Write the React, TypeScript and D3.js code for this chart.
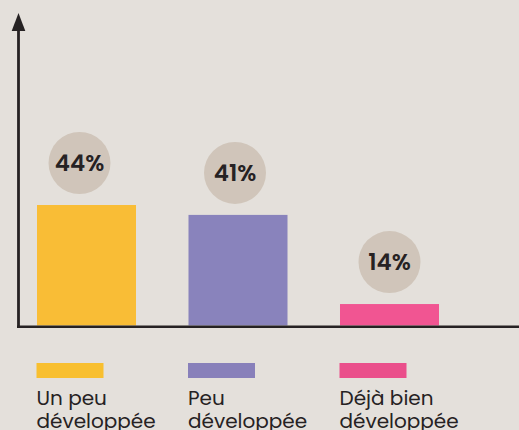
/**
 * Bar chart: degree of development, with percentage bubbles and legend below.
 */

import { useEffect, useRef } from "react";
import * as d3 from "d3";

const categories = ["Un peu développée", "Peu développée", "Déjà bien développée"];
const values = [44, 41, 14];
const valueLabels = ["44%", "41%", "14%"];
const legendLines = [
  ["Un peu", "développée"],
  ["Peu", "développée"],
  ["Déjà bien", "développée"],
];
const barColors = ["#f9bd36", "#8983bc", "#f15592"];
const legendColors = ["#f8bf2f", "#8880ba", "#ea4f8b"];

const W = 519;
const H = 430;
const BG = "#e4e0db";
const INK = "#262223";
const BUBBLE = "#d0c5ba";
const FONT = "Poppins, 'Open Sans', sans-serif";

export default function App() {
  const ref = useRef<SVGSVGElement | null>(null);

  useEffect(() => {
    document.body.style.margin = "0";
    document.body.style.background = BG;
    const el = ref.current;
    if (!el) return;

    const svg = d3.select(el);
    svg.selectAll("*").remove();

    const axisX = 18.5;
    const baseY = 325.5;

    const x = d3
      .scaleBand<string>()
      .domain(categories)
      .range([37, 439])
      .paddingInner(0.3465)
      .paddingOuter(0);

    // the source chart does not start its bars from zero
    const y = d3.scaleLinear().domain([7.5, 44]).range([baseY, 205]);

    svg.append("rect").attr("width", W).attr("height", H).attr("fill", BG);

    // bars
    svg
      .append("g")
      .selectAll("rect")
      .data(values)
      .join("rect")
      .attr("x", (_, i) => x(categories[i]) as number)
      .attr("y", (d) => y(d))
      .attr("width", x.bandwidth())
      .attr("height", (d) => baseY - y(d))
      .attr("fill", (_, i) => barColors[i]);

    // bubbles
    const nudge = [-7, -3, 0];
    const bubbles = svg
      .append("g")
      .selectAll("g")
      .data(values)
      .join("g")
      .attr(
        "transform",
        (d, i) =>
          `translate(${(x(categories[i]) as number) + x.bandwidth() / 2 + nudge[i]},${y(d) - 42})`
      );
    bubbles.append("circle").attr("r", 31).attr("fill", BUBBLE);
    bubbles
      .append("text")
      .attr("text-anchor", "middle")
      .attr("dy", "0.36em")
      .attr("font-family", FONT)
      .attr("font-weight", 600)
      .attr("font-size", 23)
      .attr("fill", INK)
      .text((_, i) => valueLabels[i]);

    // axes
    svg
      .append("line")
      .attr("x1", 17)
      .attr("x2", W)
      .attr("y1", baseY + 1.3)
      .attr("y2", baseY + 1.3)
      .attr("stroke", INK)
      .attr("stroke-width", 2.6);
    svg
      .append("line")
      .attr("x1", axisX)
      .attr("x2", axisX)
      .attr("y1", 28)
      .attr("y2", baseY + 2.6)
      .attr("stroke", INK)
      .attr("stroke-width", 2.8);
    svg
      .append("path")
      .attr("d", `M${axisX},13 L${axisX + 6.8},31 L${axisX - 6.8},31 Z`)
      .attr("fill", INK);

    // legend
    const legend = svg
      .append("g")
      .selectAll("g")
      .data(categories)
      .join("g")
      .attr("transform", (d) => `translate(${(x(d) as number) - 0.5},363)`);
    legend
      .append("rect")
      .attr("width", 67)
      .attr("height", 15)
      .attr("fill", (_, i) => legendColors[i]);
    const txt = legend
      .append("text")
      .attr("font-family", FONT)
      .attr("font-size", 20)
      .attr("fill", INK);
    txt
      .selectAll("tspan")
      .data((_, i) => legendLines[i])
      .join("tspan")
      .attr("x", 0)
      .attr("y", (_, j) => 42 + j * 23)
      .text((d) => d);
  }, []);

  return <svg ref={ref} width={W} height={H} style={{ display: "block" }} />;
}
